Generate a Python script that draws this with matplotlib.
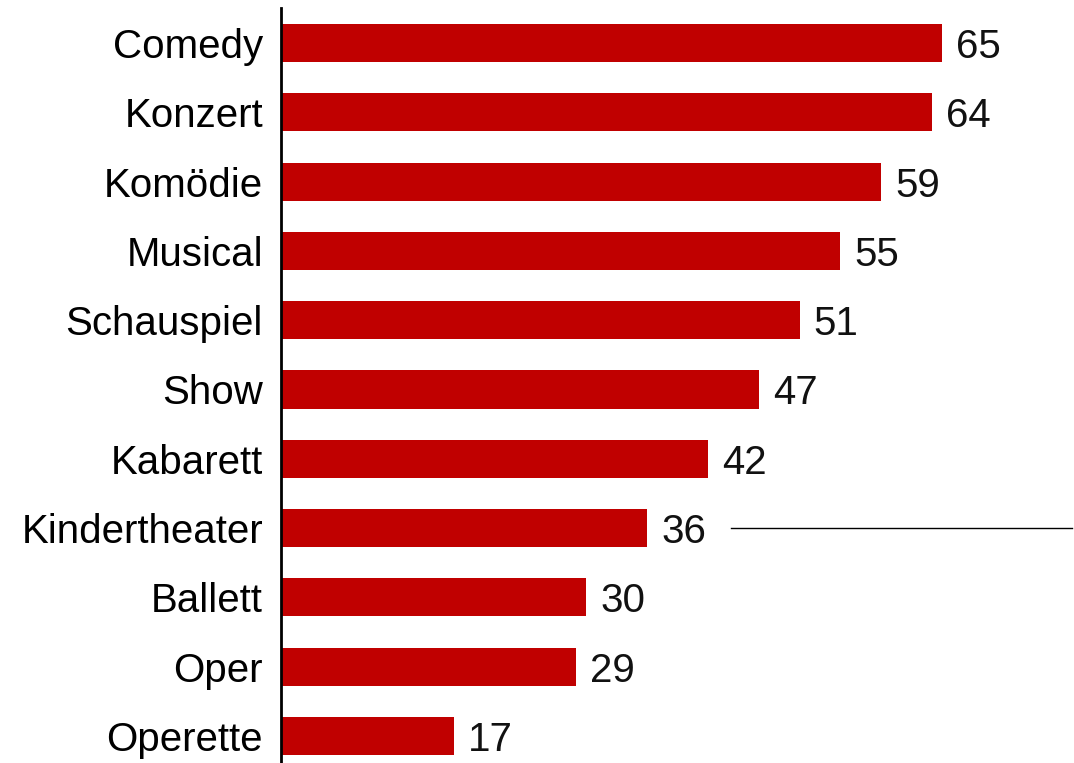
import matplotlib
matplotlib.use("Agg")
import matplotlib.pyplot as plt
from matplotlib.lines import Line2D

plt.rcParams['font.family'] = ['Liberation Sans', 'DejaVu Sans']

categories = ["Comedy", "Konzert", "Komödie", "Musical", "Schauspiel", "Show",
              "Kabarett", "Kindertheater", "Ballett", "Oper", "Operette"]
values = [65, 64, 59, 55, 51, 47, 42, 36, 30, 29, 17]

bar_color = "#C00000"

fig = plt.figure(figsize=(10.74, 7.63), dpi=100)
ax = fig.add_axes([281 / 1074, 0, 1 - 281 / 1074, 1 - 8 / 763])

pos = list(range(len(categories)))
ax.barh(pos, values, height=0.55, color=bar_color)

for p, v in zip(pos, values):
    ax.text(v + 1.4, p, str(v), va="center_baseline", ha="left", fontsize=29, color="#111111")

ax.set_yticks(pos)
ax.set_yticklabels(categories, fontsize=29, va="center_baseline")
ax.tick_params(axis="y", length=0, pad=13)
ax.set_xticks([])
ax.set_xlim(0, 78)
ax.set_ylim(10.39, -0.505)

for s in ["top", "right", "bottom"]:
    ax.spines[s].set_visible(False)
ax.spines["left"].set_linewidth(2)
ax.spines["left"].set_color("black")

# stray rule on the right side
fig.add_artist(Line2D([731 / 1074, 1072 / 1074], [1 - 528 / 763, 1 - 528 / 763],
                      color="black", linewidth=1))

fig.savefig("out.png", dpi=100)
